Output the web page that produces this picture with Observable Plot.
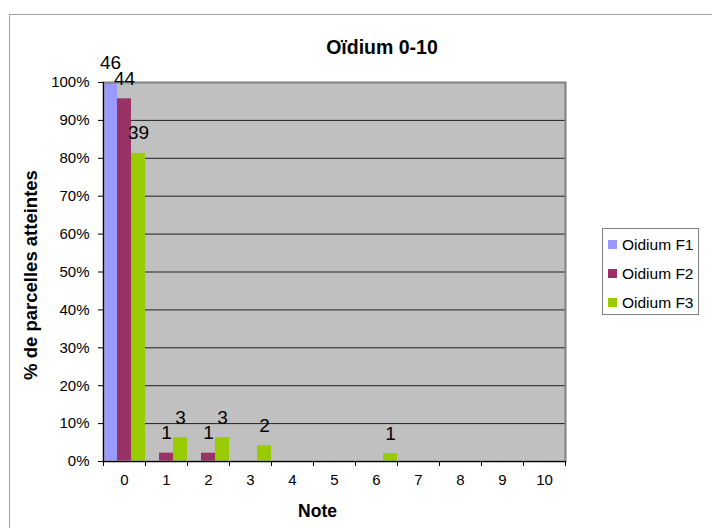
<!DOCTYPE html>
<html><head><meta charset="utf-8">
<script src="https://cdn.jsdelivr.net/npm/d3@7"></script>
<script src="https://cdn.jsdelivr.net/npm/@observablehq/plot@0.6"></script>
<style>
body{margin:0;width:712px;height:528px;overflow:hidden;position:relative;background:#fff;font-family:"Liberation Sans",Arial,sans-serif;color:#000;}
#border{position:absolute;left:9px;top:14px;width:800px;height:600px;border:1.5px solid #a0a0a0;}
#chart{position:absolute;left:0;top:0;}
#title{position:absolute;left:282px;width:200px;top:36px;line-height:22px;text-align:center;font-weight:bold;font-size:19.5px;}
#legend{position:absolute;left:602px;top:228px;width:97px;height:87px;border:1px solid #808080;background:#fff;box-sizing:border-box;padding-top:1px;}
.item{height:29px;line-height:29px;font-size:15.5px;white-space:nowrap;}
.sw{display:inline-block;width:9px;height:9px;margin-left:5px;margin-right:5px;vertical-align:middle;position:relative;top:-1px;}
</style>
</head><body>
<div id="border"></div>
<div id="chart"></div>
<div id="title">Oïdium 0-10</div>
<div id="legend"></div>
<script>
const notes = ["0","1","2","3","4","5","6","7","8","9","10"];
const series = ["Oidium F1","Oidium F2","Oidium F3"];
const colors = ["#9999FF","#993366","#99CC00"];
// percentage of plots (bar heights)
const pctF1 = [100,0,0,0,0,0,0,0,0,0,0];
const pctF2 = [95.7,2.2,2.2,0,0,0,0,0,0,0,0];
const pctF3 = [81.3,6.3,6.3,4.2,0,0,2.1,0,0,0,0];
// counts shown as labels
const countF1 = [46,0,0,0,0,0,0,0,0,0,0];
const countF2 = [44,1,1,0,0,0,0,0,0,0,0];
const countF3 = [39,3,3,2,0,0,1,0,0,0,0];
const yTicks = [0,10,20,30,40,50,60,70,80,90,100];

const pcts = [pctF1, pctF2, pctF3];
const counts = [countF1, countF2, countF3];
const rows = [];
series.forEach((s, k) => notes.forEach((n, i) => {
  rows.push({note: n, series: s, k, i, pct: pcts[k][i], count: counts[k][i],
    x1: i - 0.5 + k/3, x2: i - 0.5 + (k+1)/3, xc: i - 0.5 + (k+0.5)/3});
}));
const bars = rows.filter(d => d.pct > 0);

const plot = Plot.plot({
  width: 712, height: 528,
  marginLeft: 103, marginRight: 147, marginTop: 82, marginBottom: 67,
  style: {fontFamily: "'Liberation Sans', Arial, sans-serif", fontSize: "15px", color: "#000", background: "transparent"},
  x: {type: "linear", domain: [-0.5, 10.5]},
  y: {domain: [0, 100]},
  color: {domain: series, range: colors},
  marks: [
    Plot.frame({fill: "#C0C0C0", stroke: "none"}),
    Plot.ruleY(yTicks.filter(v => v > 0 && v < 100), {stroke: "#202020", strokeWidth: 1}),
    Plot.rectY(bars, {x1: "x1", x2: "x2", y1: 0, y2: "pct", fill: "series"}),
    Plot.frame({stroke: "#808080", strokeWidth: 2, fill: "none"}),
    Plot.ruleX([-0.5], {stroke: "#000"}),
    Plot.ruleY([0], {stroke: "#000"}),
    Plot.axisY({ticks: yTicks, tickFormat: d => d + "%", tickSize: 5, tickPadding: 9, fontSize: 15, label: null}),
    Plot.axisX({ticks: d3.range(-0.5, 11, 1), tickFormat: () => "", tickSize: 5, label: null}),
    Plot.axisX({ticks: d3.range(0, 11), tickFormat: i => notes[i], tickSize: 0, tickPadding: 13, fontSize: 15, label: null}),
    Plot.text(bars, {x: "xc", y: "pct", text: "count", dy: -20, fontSize: 19, lineAnchor: "middle", fill: "#000"}),
    Plot.text(["Note"], {frameAnchor: "bottom", textAnchor: "middle", dx: -17, dy: 50, fontSize: 17.5, fontWeight: "bold", lineAnchor: "middle"}),
    Plot.text(["% de parcelles atteintes"], {frameAnchor: "left", textAnchor: "middle", dx: -72, dy: 3, rotate: -90, fontSize: 18.5, fontWeight: "bold", lineAnchor: "middle"})
  ]
});
document.getElementById("chart").appendChild(plot);

const legend = document.getElementById("legend");
series.forEach((s, k) => {
  const div = document.createElement("div");
  div.className = "item";
  div.innerHTML = `<span class="sw" style="background:${colors[k]}"></span>${s}`;
  legend.appendChild(div);
});
</script>
</body></html>
